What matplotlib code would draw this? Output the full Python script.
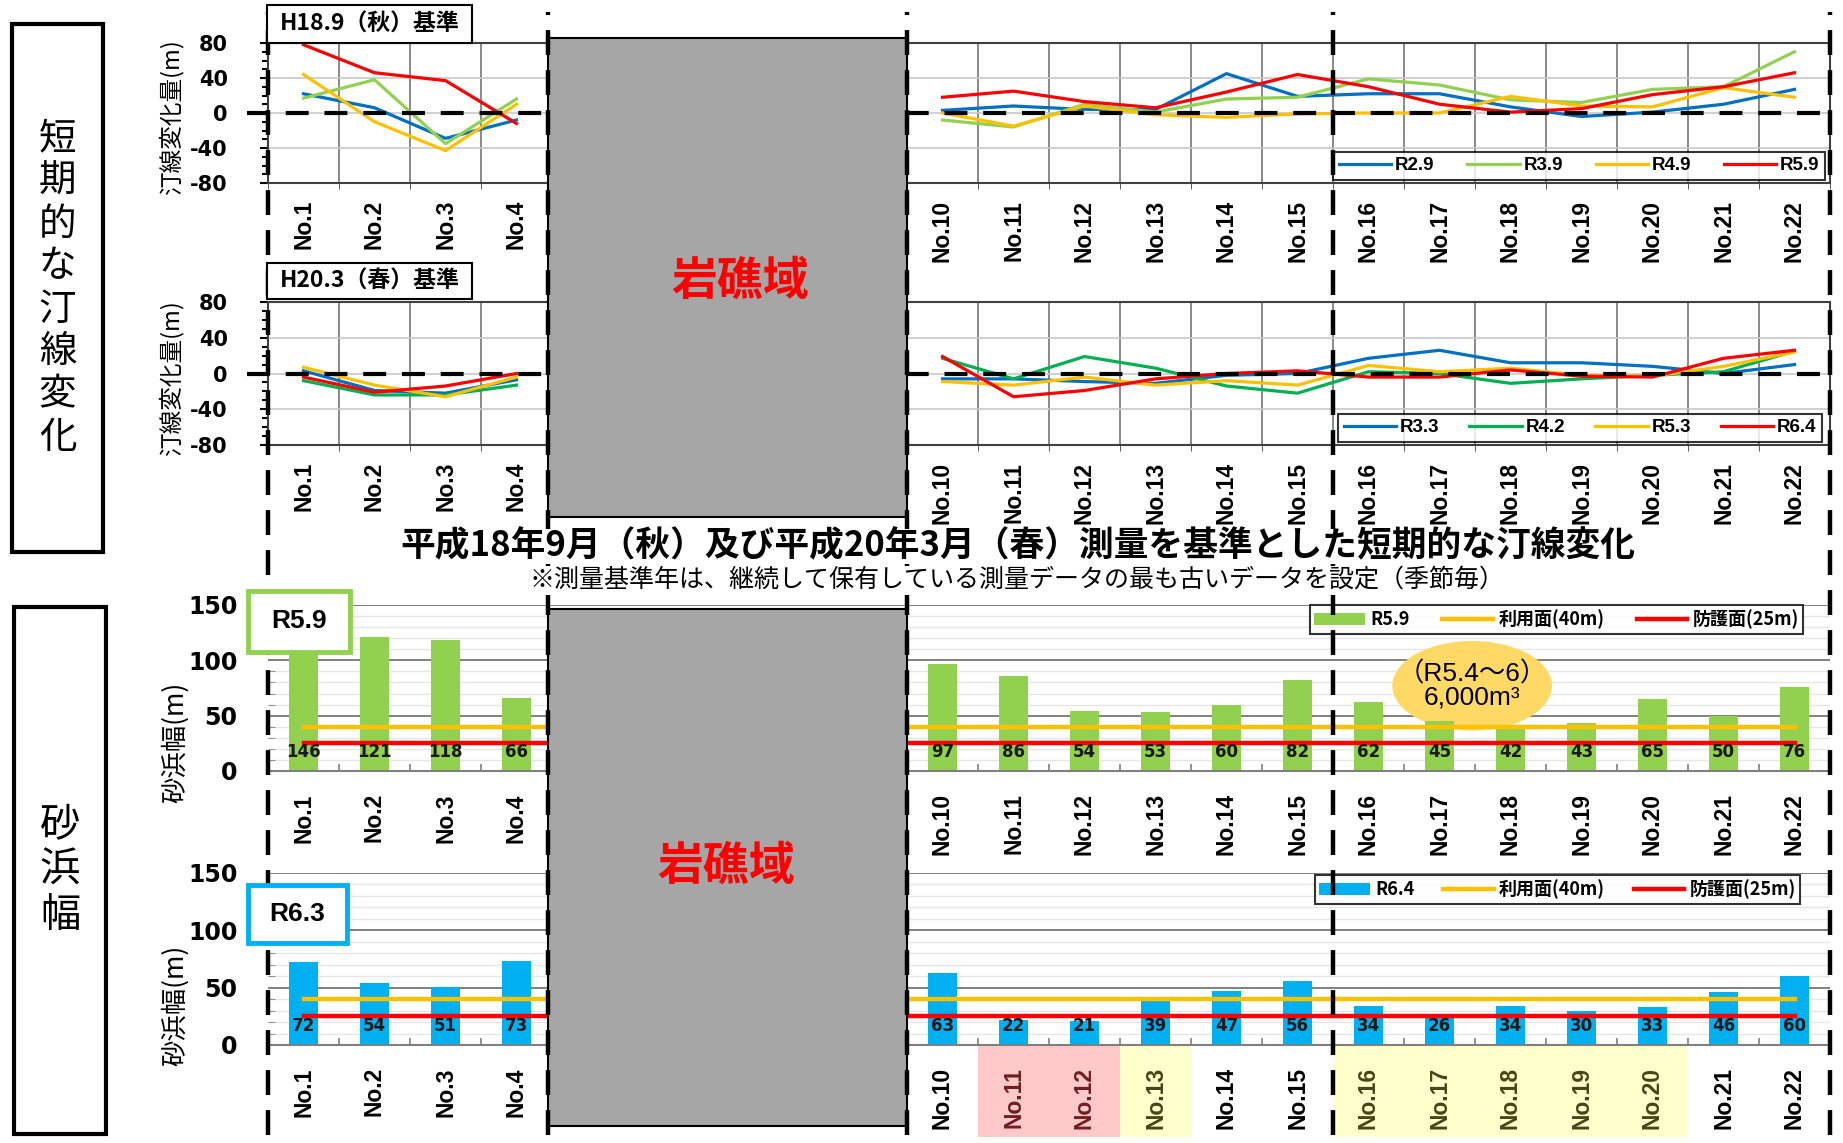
import numpy as np
import matplotlib
matplotlib.use("Agg")
import matplotlib.pyplot as plt
from matplotlib.patches import Rectangle, Ellipse
from matplotlib.lines import Line2D
from matplotlib.transforms import blended_transform_factory
from matplotlib.font_manager import FontProperties

plt.rcParams["axes.unicode_minus"] = False

# font families (fallback happens within each list)
CJK = ["Noto Sans CJK JP", "DejaVu Sans"]
SANS = ["Liberation Sans", "Noto Sans CJK JP", "DejaVu Sans"]
NARROW = ["Liberation Sans Narrow", "Liberation Sans", "DejaVu Sans"]
NUM = ["DejaVu Sans"]

# ---------------------------------------------------------------- data
POINTS = ["No.1", "No.2", "No.3", "No.4", "No.5", "No.6", "No.7", "No.8",
          "No.9", "No.10", "No.11", "No.12", "No.13", "No.14", "No.15",
          "No.16", "No.17", "No.18", "No.19", "No.20", "No.21", "No.22"]
N = np.nan

# shoreline change (m), baseline: H18.9 (autumn) survey
AUTUMN_LABELS = ["R2.9", "R3.9", "R4.9", "R5.9"]
AUT_R2_9 = [22, 6, -29, -8, N, N, N, N, N, 3, 8, 4, 4, 45, 19, 22, 22, 7, -4, 1, 10, 27]
AUT_R3_9 = [17, 38, -35, 16, N, N, N, N, N, -8, -16, 10, 1, 16, 18, 39, 32, 15, 12, 27, 30, 70]
AUT_R4_9 = [44, -10, -43, 10, N, N, N, N, N, 0, -15, 8, -2, -5, -1, 0, 0, 19, 8, 7, 29, 18]
AUT_R5_9 = [78, 46, 37, -12, N, N, N, N, N, 18, 25, 13, 6, 24, 44, 30, 10, 1, 5, 21, 30, 46]

# shoreline change (m), baseline: H20.3 (spring) survey
SPRING_LABELS = ["R3.3", "R4.2", "R5.3", "R6.4"]
SPR_R3_3 = [3, -19, -22, -7, N, N, N, N, N, -6, -6, -9, -11, -2, 0, 17, 26, 12, 12, 8, 0, 10]
SPR_R4_2 = [-8, -24, -24, -13, N, N, N, N, N, 17, -6, 19, 6, -14, -22, 2, 0, -11, -6, -2, 2, 25]
SPR_R5_3 = [7, -13, -26, -4, N, N, N, N, N, -9, -13, -4, -13, -8, -13, 9, 2, 6, -2, -3, 8, 24]
SPR_R6_4 = [-4, -21, -14, 0, N, N, N, N, N, 19, -26, -19, -6, 0, 3, -4, -4, 4, -3, -4, 17, 26]

# beach width (m)
WIDTH_R5_9 = [146, 121, 118, 66, N, N, N, N, N, 97, 86, 54, 53, 60, 82, 62, 45, 42, 43, 65, 50, 76]
WIDTH_R6_4 = [72, 54, 51, 73, N, N, N, N, N, 63, 22, 21, 39, 47, 56, 34, 26, 34, 30, 33, 46, 60]
USE_WIDTH = 40       # 利用面
PROTECT_WIDTH = 25   # 防護面

REEF_SPAN = (3.44, 8.5)          # rocky-reef stretch hidden on the x axis
SECTION_BREAKS = [-0.5, 3.44, 8.5, 14.5, 21.5]
EROSION_POINTS = ["No.11", "No.12"]
WATCH_POINTS = ["No.13", "No.16", "No.17", "No.18", "No.19", "No.20"]

BLUE, LGREEN, YELLOW, RED, GREEN = "#0070C0", "#92D050", "#FFC000", "#FF0000", "#00B050"
SKY = "#00B0F0"

# ---------------------------------------------------------------- layout
W, H = 1843, 1143
fig = plt.figure(figsize=(W / 100, H / 100), dpi=100)


def px_box(x0, y0, x1, y1):
    return [x0 / W, 1 - y1 / H, (x1 - x0) / W, (y1 - y0) / H]


def fy(y):
    return 1 - y / H


x = np.arange(len(POINTS))

ax_a = fig.add_axes(px_box(268, 43, 1830, 183))
ax_s = fig.add_axes(px_box(268, 302, 1830, 445))
ax_b1 = fig.add_axes(px_box(268, 605, 1830, 771))
ax_b2 = fig.add_axes(px_box(268, 873, 1830, 1045))


def point_labels(ax, pad):
    ax.set_xticks(x)
    ax.set_xticklabels(POINTS, rotation=90, fontfamily=NARROW,
                       fontweight="bold", fontsize=16.5)
    ax.set_xticks(np.arange(-0.5, len(POINTS), 1), minor=True)
    ax.tick_params(axis="x", which="major", length=0, pad=pad)
    # points inside the reef stretch sit under the grey block
    for xi, tk in zip(x, ax.xaxis.get_major_ticks()):
        if REEF_SPAN[0] < xi < REEF_SPAN[1]:
            tk.label1.set_visible(False)


def shoreline_panel(ax, series, labels, colors, legend_anchor):
    for vals, lab, col in zip(series, labels, colors):
        ax.plot(x, vals, color=col, lw=2.3, label=lab, zorder=3)
    ax.set_xlim(-0.5, len(POINTS) - 0.5)
    ax.set_ylim(-80, 80)
    ax.set_yticks([-80, -40, 0, 40, 80])
    ax.set_yticks(np.arange(-80, 81, 10), minor=True)
    point_labels(ax, 12)
    ax.grid(axis="x", which="minor", color="#808080", lw=1.3)
    ax.grid(axis="y", which="major", color="#C8C8C8", lw=1.2)
    ax.tick_params(axis="x", which="minor", length=4, color="#404040")
    ax.tick_params(axis="y", which="both", direction="out", color="black", width=1.5)
    ax.tick_params(axis="y", which="major", length=6, pad=23)
    ax.tick_params(axis="y", which="minor", length=4)
    for t in ax.get_yticklabels():
        t.set_fontfamily(NUM)
        t.set_fontweight("bold")
        t.set_fontsize(15)
    for sp in ax.spines.values():
        sp.set_color("#404040")
        sp.set_linewidth(1.5)
    ax.set_ylabel("汀線変化量(m)", fontfamily=CJK, fontsize=17)
    ax.yaxis.label.set_va("center")
    ax.yaxis.set_label_coords(-0.062, 0.47)
    # zero reference, running slightly past the plot frame
    tr = blended_transform_factory(ax.transAxes, ax.transData)
    ax.add_line(Line2D([-0.0135, 1.003], [0, 0], transform=tr, color="black",
                       lw=3.0, dashes=(5.5, 3.8), clip_on=False, zorder=5))
    leg = ax.legend(loc="lower left", bbox_to_anchor=legend_anchor, mode="expand",
                    ncol=4, frameon=True, fancybox=False, edgecolor="black",
                    borderaxespad=0, handlelength=2.8, handletextpad=0.2,
                    borderpad=0.3,
                    prop=FontProperties(family=SANS, weight="bold", size=13.5))
    leg.get_frame().set_linewidth(1.5)
    leg.set_zorder(6)


shoreline_panel(ax_a, [AUT_R2_9, AUT_R3_9, AUT_R4_9, AUT_R5_9], AUTUMN_LABELS,
                [BLUE, LGREEN, YELLOW, RED], (0.682, 0.021, 0.315, 1.0))
shoreline_panel(ax_s, [SPR_R3_3, SPR_R4_2, SPR_R5_3, SPR_R6_4], SPRING_LABELS,
                [BLUE, GREEN, YELLOW, RED], (0.685, 0.021, 0.31, 1.0))


def width_panel(ax, widths, color, label, legend_anchor, ylabel_y):
    vals = np.array(widths, dtype=float)
    ok = ~np.isnan(vals)
    ax.set_xlim(-0.5, len(POINTS) - 0.5)
    ax.set_ylim(0, 150)
    ax.set_yticks([0, 50, 100, 150])
    ax.set_yticks(np.arange(0, 151, 10), minor=True)
    ax.set_axisbelow(True)
    ax.grid(axis="y", which="minor", color="#E6E6E6", lw=1.0)
    ax.grid(axis="y", which="major", color="#808080", lw=1.4)
    bars = ax.bar(x[ok], vals[ok], width=0.4, color=color, zorder=2)
    use_ln, = ax.plot(x, [USE_WIDTH] * len(x), color=YELLOW, lw=3.2, zorder=3)
    pro_ln, = ax.plot(x, [PROTECT_WIDTH] * len(x), color=RED, lw=3.2, zorder=3)
    for xi, v in zip(x[ok], vals[ok]):
        ax.annotate(f"{v:.0f}", (xi, 0), xytext=(0, 14), textcoords="offset points",
                    ha="center", va="center", fontfamily=NUM, fontweight="bold",
                    fontsize=12, color="#1A1A1A", zorder=4)
    point_labels(ax, 16)
    ax.tick_params(axis="x", which="minor", direction="in", length=5,
                   color="#808080", width=1.2)
    ax.tick_params(axis="y", which="major", length=0, pad=22)
    ax.tick_params(axis="y", which="minor", direction="in", length=5, color="#808080")
    for t in ax.get_yticklabels():
        t.set_fontfamily(NUM)
        t.set_fontweight("bold")
        t.set_fontsize(17)
    for side in ("top", "right", "left"):
        ax.spines[side].set_visible(False)
    ax.spines["bottom"].set_color("#808080")
    ax.spines["bottom"].set_linewidth(1.5)
    ax.set_ylabel("砂浜幅(m)", fontfamily=CJK, fontsize=19)
    ax.yaxis.label.set_va("center")
    ax.yaxis.set_label_coords(-0.0595, ylabel_y)
    leg = ax.legend([bars, use_ln, pro_ln], [label, "利用面(40m)", "防護面(25m)"],
                    loc="upper left", bbox_to_anchor=legend_anchor, mode="expand",
                    ncol=3, frameon=True, fancybox=False, edgecolor="black",
                    borderaxespad=0, handlelength=2.8, handletextpad=0.3,
                    borderpad=0.25,
                    prop=FontProperties(family=CJK, weight="bold", size=13))
    leg.get_frame().set_linewidth(1.5)
    leg.set_zorder(6)


width_panel(ax_b1, WIDTH_R5_9, LGREEN, "R5.9", (0.667, 0.0, 0.316, 1.0), 0.17)
width_panel(ax_b2, WIDTH_R6_4, SKY, "R6.4", (0.670, 0.0, 0.311, 0.988), 0.23)

# sand-placement note
ax_b1.add_patch(Ellipse((16.46, 77), 2.25, 81, facecolor="#FFD966",
                        edgecolor="none", zorder=1.5))
ax_b1.text(16.46, 77, "（R5.4～6）\n6,000m³", ha="center", va="center",
           fontfamily=SANS, fontsize=19, linespacing=0.95, zorder=6)

# highlighted survey points on the lowest axis
hl_tr = blended_transform_factory(ax_b2.transData, fig.transFigure)
b2_ticks = ax_b2.xaxis.get_major_ticks()
for names, face, ink in ((EROSION_POINTS, "#FFC9C9", "#6E1E1E"),
                         (WATCH_POINTS, "#FFFFCC", "#45451A")):
    for name in names:
        i = POINTS.index(name)
        fig.add_artist(Rectangle((i - 0.5, fy(1137)), 1.0, (1137 - 1046) / H,
                                 transform=hl_tr, facecolor=face,
                                 edgecolor="none", zorder=-1))
        b2_ticks[i].label1.set_color(ink)

# rocky-reef blocks
vtr = blended_transform_factory(ax_a.transData, fig.transFigure)
for top, bottom in ((38, 517), (609, 1126)):
    fig.add_artist(Rectangle((REEF_SPAN[0], fy(bottom)), REEF_SPAN[1] - REEF_SPAN[0],
                             (bottom - top) / H, transform=vtr,
                             facecolor="#A6A6A6", edgecolor="black", lw=1.5, zorder=3))
fig.text(740 / W, fy(282), "岩礁域", ha="center", va="center", fontfamily=CJK,
         fontweight="bold", fontsize=33, color=RED, zorder=5)
fig.text(726 / W, fy(867), "岩礁域", ha="center", va="center", fontfamily=CJK,
         fontweight="bold", fontsize=33, color=RED, zorder=5)

# section dividers
for xb in SECTION_BREAKS:
    fig.add_artist(Line2D([xb, xb], [fy(1135), fy(12)], transform=vtr, color="black",
                          lw=3.2, dashes=(5.6, 3.4), zorder=4))


# baseline tags and series tags
def tag(x0, y0, x1, y1, text, edge, lw, family, size):
    fig.add_artist(Rectangle((x0 / W, fy(y1)), (x1 - x0) / W, (y1 - y0) / H,
                             transform=fig.transFigure, facecolor="white",
                             edgecolor=edge, lw=lw, zorder=6))
    fig.text((x0 + x1) / 2 / W, fy((y0 + y1) / 2), text, ha="center", va="center",
             fontfamily=family, fontweight="bold", fontsize=size, zorder=7)


tag(267, 5, 472, 43, "H18.9（秋）基準", "black", 1.5, CJK, 16.5)
tag(267, 263, 472, 299, "H20.3（春）基準", "black", 1.5, CJK, 16.5)
tag(248, 591, 350, 652, "R5.9", LGREEN, 3.5, SANS, 19)
tag(248, 885, 347, 943, "R6.3", SKY, 3.5, SANS, 19)

# section headings on the left
for (x0, y0, x1, y1), word, size in (((12, 24, 103, 552), "短期的な汀線変化", 27),
                                     ((14, 607, 106, 1134), "砂浜幅", 29)):
    fig.add_artist(Rectangle((x0 / W, fy(y1)), (x1 - x0) / W, (y1 - y0) / H,
                             transform=fig.transFigure, fill=False,
                             edgecolor="black", lw=3, zorder=6))
    fig.text((x0 + x1) / 2 / W, fy((y0 + y1) / 2), "\n".join(word), ha="center",
             va="center", fontfamily=CJK, fontsize=size, linespacing=1.12, zorder=7)

# caption between the two groups, on a white band over the dividers
fig.text(1018 / W, fy(546), "平成18年9月（秋）及び平成20年3月（春）測量を基準とした短期的な汀線変化",
         ha="center", va="center", fontfamily=CJK, fontweight="bold", fontsize=25,
         zorder=8, bbox=dict(facecolor="white", edgecolor="none", pad=0))
fig.text(1017 / W, fy(580), "※測量基準年は、継続して保有している測量データの最も古いデータを設定（季節毎）",
         ha="center", va="center", fontfamily=CJK, fontsize=18, zorder=8,
         bbox=dict(facecolor="white", edgecolor="none", pad=1))

fig.savefig("out.png", dpi=100)
